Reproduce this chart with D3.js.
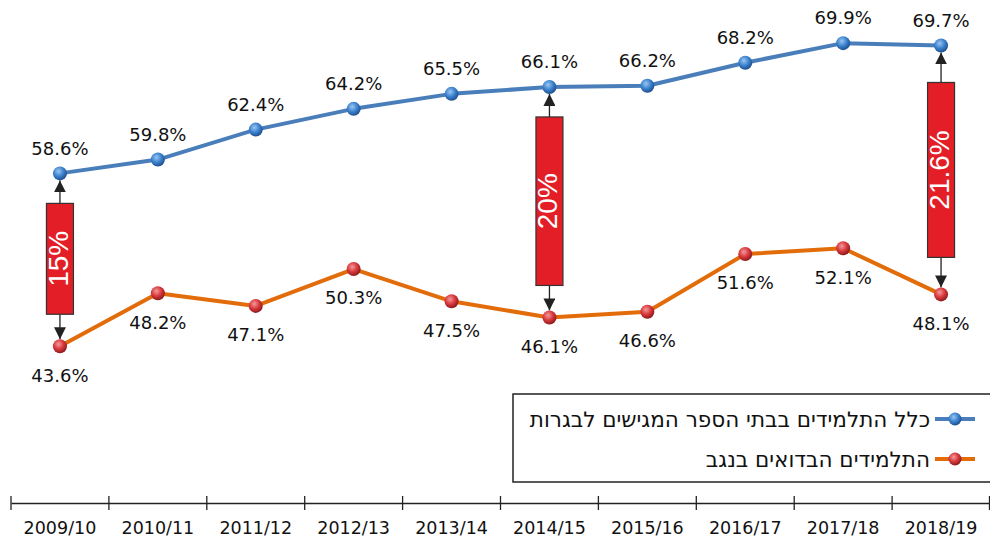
<!DOCTYPE html>
<html>
<head>
<meta charset="utf-8">
<script src="https://cdn.jsdelivr.net/npm/d3@7"></script>
<style>
  body { margin: 0; background: #fff; }
  svg { display: block; font-family: "DejaVu Sans", Verdana, sans-serif; }
</style>
</head>
<body>
<div id="chart"></div>
<script>
const years = ["2009/10", "2010/11", "2011/12", "2012/13", "2013/14", "2014/15", "2015/16", "2016/17", "2017/18", "2018/19"];
const allStudents = [58.6, 59.8, 62.4, 64.2, 65.5, 66.1, 66.2, 68.2, 69.9, 69.7];
const bedouinStudents = [43.6, 48.2, 47.1, 50.3, 47.5, 46.1, 46.6, 51.6, 52.1, 48.1];
const seriesNames = ["כלל התלמידים בבתי הספר המגישים לבגרות", "התלמידים הבדואים בנגב"];
const gapYears = ["2009/10", "2014/15", "2018/19"];
const gapLabels = ["15%", "20%", "21.6%"];

const width = 990, height = 542;
const svg = d3.select('#chart').append('svg')
    .attr("width", width)
    .attr("height", height);

const x = d3.scaleBand().domain(years).range([11, 990]);
const y = d3.scaleLinear().domain([30, 70]).range([503, 42]);
const cx = d => x(d) + x.bandwidth() / 2;

const defs = svg.append("defs");
function ballGrad(id, light, mid, dark) {
    const g = defs.append("radialGradient").attr("id", id)
        .attr("cx", "40%").attr("cy", "35%").attr("r", "65%");
    g.append("stop").attr("offset", "0%").attr("stop-color", light);
    g.append("stop").attr("offset", "55%").attr("stop-color", mid);
    g.append("stop").attr("offset", "100%").attr("stop-color", dark);
}
ballGrad("blueBall", "#9cc6f0", "#3b82cf", "#1f4f8c");
ballGrad("redBall", "#f29a9a", "#d8383c", "#8e1a1c");

defs.append("marker").attr("id", "arrow")
    .attr("viewBox", "0 0 10 10").attr("refX", 10).attr("refY", 5)
    .attr("markerWidth", 12).attr("markerHeight", 12)
    .attr("markerUnits", "userSpaceOnUse")
    .attr("orient", "auto")
    .append("path").attr("d", "M0,0 L10,5 L0,10 Z").attr("fill", "#222");

// x axis
const axis = svg.append("g").attr("transform", "translate(0,503)")
    .call(d3.axisBottom(x).tickSize(0).tickPadding(19));
axis.select(".domain").attr("stroke", "#222").attr("stroke-width", 1.5);
axis.selectAll("text").attr("font-size", 17.5).attr("fill", "#111")
    .attr("font-family", "DejaVu Sans, sans-serif");
const edges = years.map(d => x(d)).concat([x.range()[1] - 0.5]);
axis.selectAll(".edge").data(edges).enter().append("line")
    .attr("x1", d => d).attr("x2", d => d)
    .attr("y1", -7).attr("y2", 7)
    .attr("stroke", "#222").attr("stroke-width", 1.3);

const series = [
    { values: allStudents, color: "#4a7ebb", ball: "url(#blueBall)", dy: -25 },
    { values: bedouinStudents, color: "#e36c0a", ball: "url(#redBall)", dy: 29 }
];

const line = d3.line().x((d, i) => cx(years[i])).y(d => y(d));

// gap bars
gapYears.forEach((yr, k) => {
    const i = years.indexOf(yr);
    const top = y(allStudents[i]), bot = y(bedouinStudents[i]);
    const px = cx(yr);
    const rTop = top + 30 + (k === 2 ? 7 : 0), rBot = bot - 32 - (k === 2 ? 5 : 0);
    const g = svg.append("g");
    g.append("line").attr("x1", px).attr("x2", px).attr("y1", rTop).attr("y2", top + 7)
        .attr("stroke", "#222").attr("stroke-width", 1.3).attr("marker-end", "url(#arrow)");
    g.append("line").attr("x1", px).attr("x2", px).attr("y1", rBot).attr("y2", bot - 7)
        .attr("stroke", "#222").attr("stroke-width", 1.3).attr("marker-end", "url(#arrow)");
    g.append("rect").attr("x", px - 13.5).attr("y", rTop).attr("width", 27).attr("height", rBot - rTop)
        .attr("fill", "#e31e26").attr("stroke", "#333").attr("stroke-width", 1.2);
    g.append("text")
        .attr("transform", `translate(${px + 8},${(rTop + rBot) / 2}) rotate(-90)`)
        .attr("text-anchor", "middle")
        .attr("font-family", "'Liberation Sans Narrow', 'Liberation Sans', sans-serif")
        .attr("font-size", 28).attr("fill", "#fff")
        .text(gapLabels[k]);
});

series.forEach(s => {
    svg.append("path").datum(s.values)
        .attr("d", line).attr("fill", "none")
        .attr("stroke", s.color).attr("stroke-width", 4).attr("stroke-linejoin", "round");
    svg.selectAll(null).data(s.values).enter().append("circle")
        .attr("cx", (d, i) => cx(years[i])).attr("cy", d => y(d)).attr("r", 7)
        .attr("fill", s.ball);
    svg.selectAll(null).data(s.values).enter().append("text")
        .attr("x", (d, i) => cx(years[i])).attr("y", d => y(d) + s.dy)
        .attr("dy", "0.35em").attr("text-anchor", "middle")
        .attr("font-size", 18).attr("fill", "#111")
        .text(d => d.toFixed(1) + "%");
});

// legend
const lg = svg.append("g");
lg.append("rect").attr("x", 513).attr("y", 394).attr("width", 490).attr("height", 88)
    .attr("fill", "#fff").attr("stroke", "#222").attr("stroke-width", 1.5);
series.forEach((s, k) => {
    const ly = 419 + k * 40;
    lg.append("line").attr("x1", 935).attr("x2", 975).attr("y1", ly).attr("y2", ly)
        .attr("stroke", s.color).attr("stroke-width", 4);
    lg.append("circle").attr("cx", 955).attr("cy", ly).attr("r", 6.5).attr("fill", s.ball);
    lg.append("text").attr("x", 930).attr("y", ly).attr("dy", "0.35em")
        .attr("text-anchor", "start").attr("font-size", 21.5).attr("fill", "#111")
        .attr("direction", "rtl")
        .text(seriesNames[k]);
});
</script>
</body>
</html>
